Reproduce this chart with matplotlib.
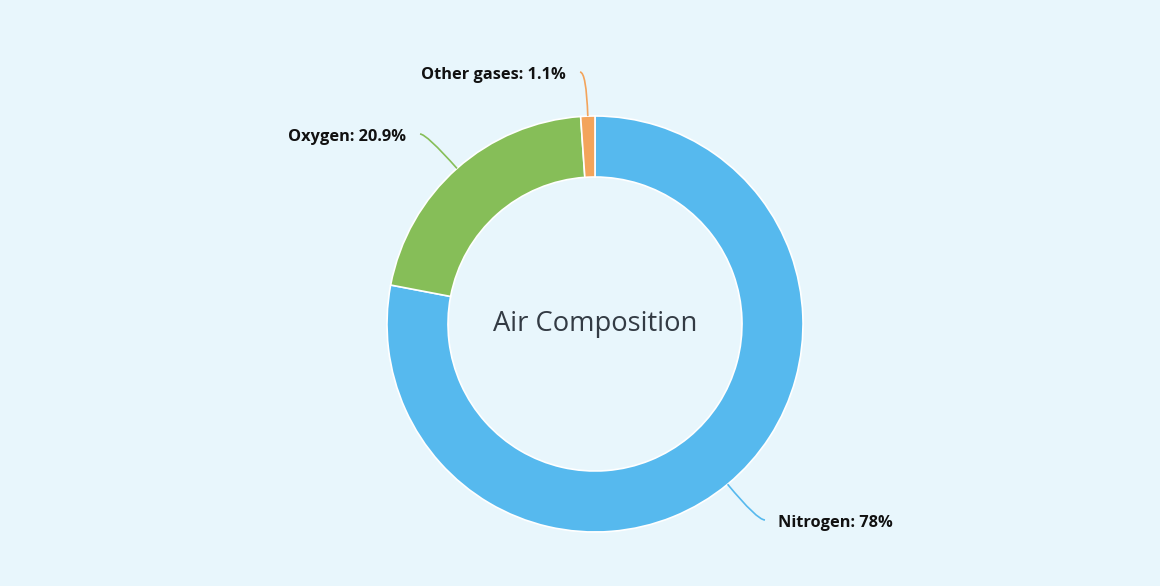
import numpy as np
import matplotlib.pyplot as plt
from matplotlib.path import Path
from matplotlib.patches import PathPatch

labels = ["Nitrogen", "Oxygen", "Other gases"]
values = [78.0, 20.9, 1.1]
value_text = ["78%", "20.9%", "1.1%"]
colors = ["#56B9EE", "#86BE58", "#F3A45B"]
center_title = "Air Composition"

BG = "#E8F6FC"
W, H = 1160, 586
cx, cy = 595, H - 324
r_out, ring = 208, 61

fig = plt.figure(figsize=(W / 100, H / 100), dpi=100, facecolor=BG)
ax = fig.add_axes([0, 0, 1, 1])
ax.set_facecolor(BG)
ax.set_xlim(0, W)
ax.set_ylim(0, H)
ax.set_aspect("equal")
ax.axis("off")

wedges, _ = ax.pie(values, colors=colors, startangle=90, counterclock=False,
                   center=(cx, cy), radius=r_out,
                   wedgeprops=dict(width=ring, edgecolor="white", linewidth=1.2))
ax.set_xlim(0, W)
ax.set_ylim(0, H)

# label anchor points (px from top) where the connector ends
ends = [(765, 520), (420, 134), (580, 72)]
total = sum(values)
start = 90.0
for i, v in enumerate(values):
    mid = start - v / total * 360 / 2
    start -= v / total * 360
    a = np.deg2rad(mid)
    dx, dy = np.cos(a), np.sin(a)
    p0 = (cx + r_out * dx, cy + r_out * dy)
    ex, ey = ends[i][0], H - ends[i][1]
    t = (ey - p0[1]) / dy
    p1 = (p0[0] + dx * t, ey)
    path = Path([p0, p1, (ex, ey)], [Path.MOVETO, Path.CURVE3, Path.CURVE3])
    ax.add_patch(PathPatch(path, fc="none", ec=colors[i], lw=1.2))
    right = ex > cx
    ax.text(ex + (13 if right else -14), ey - 3, f"{labels[i]}: {value_text[i]}",
            ha="left" if right else "right", va="center",
            fontsize=11.8, fontweight="bold", family="Open Sans", color="#111111")

ax.text(cx, cy, center_title, ha="center", va="center",
        fontsize=19.7, family="Open Sans", color="#333B44")

fig.savefig("out.png", dpi=100, facecolor=BG)
